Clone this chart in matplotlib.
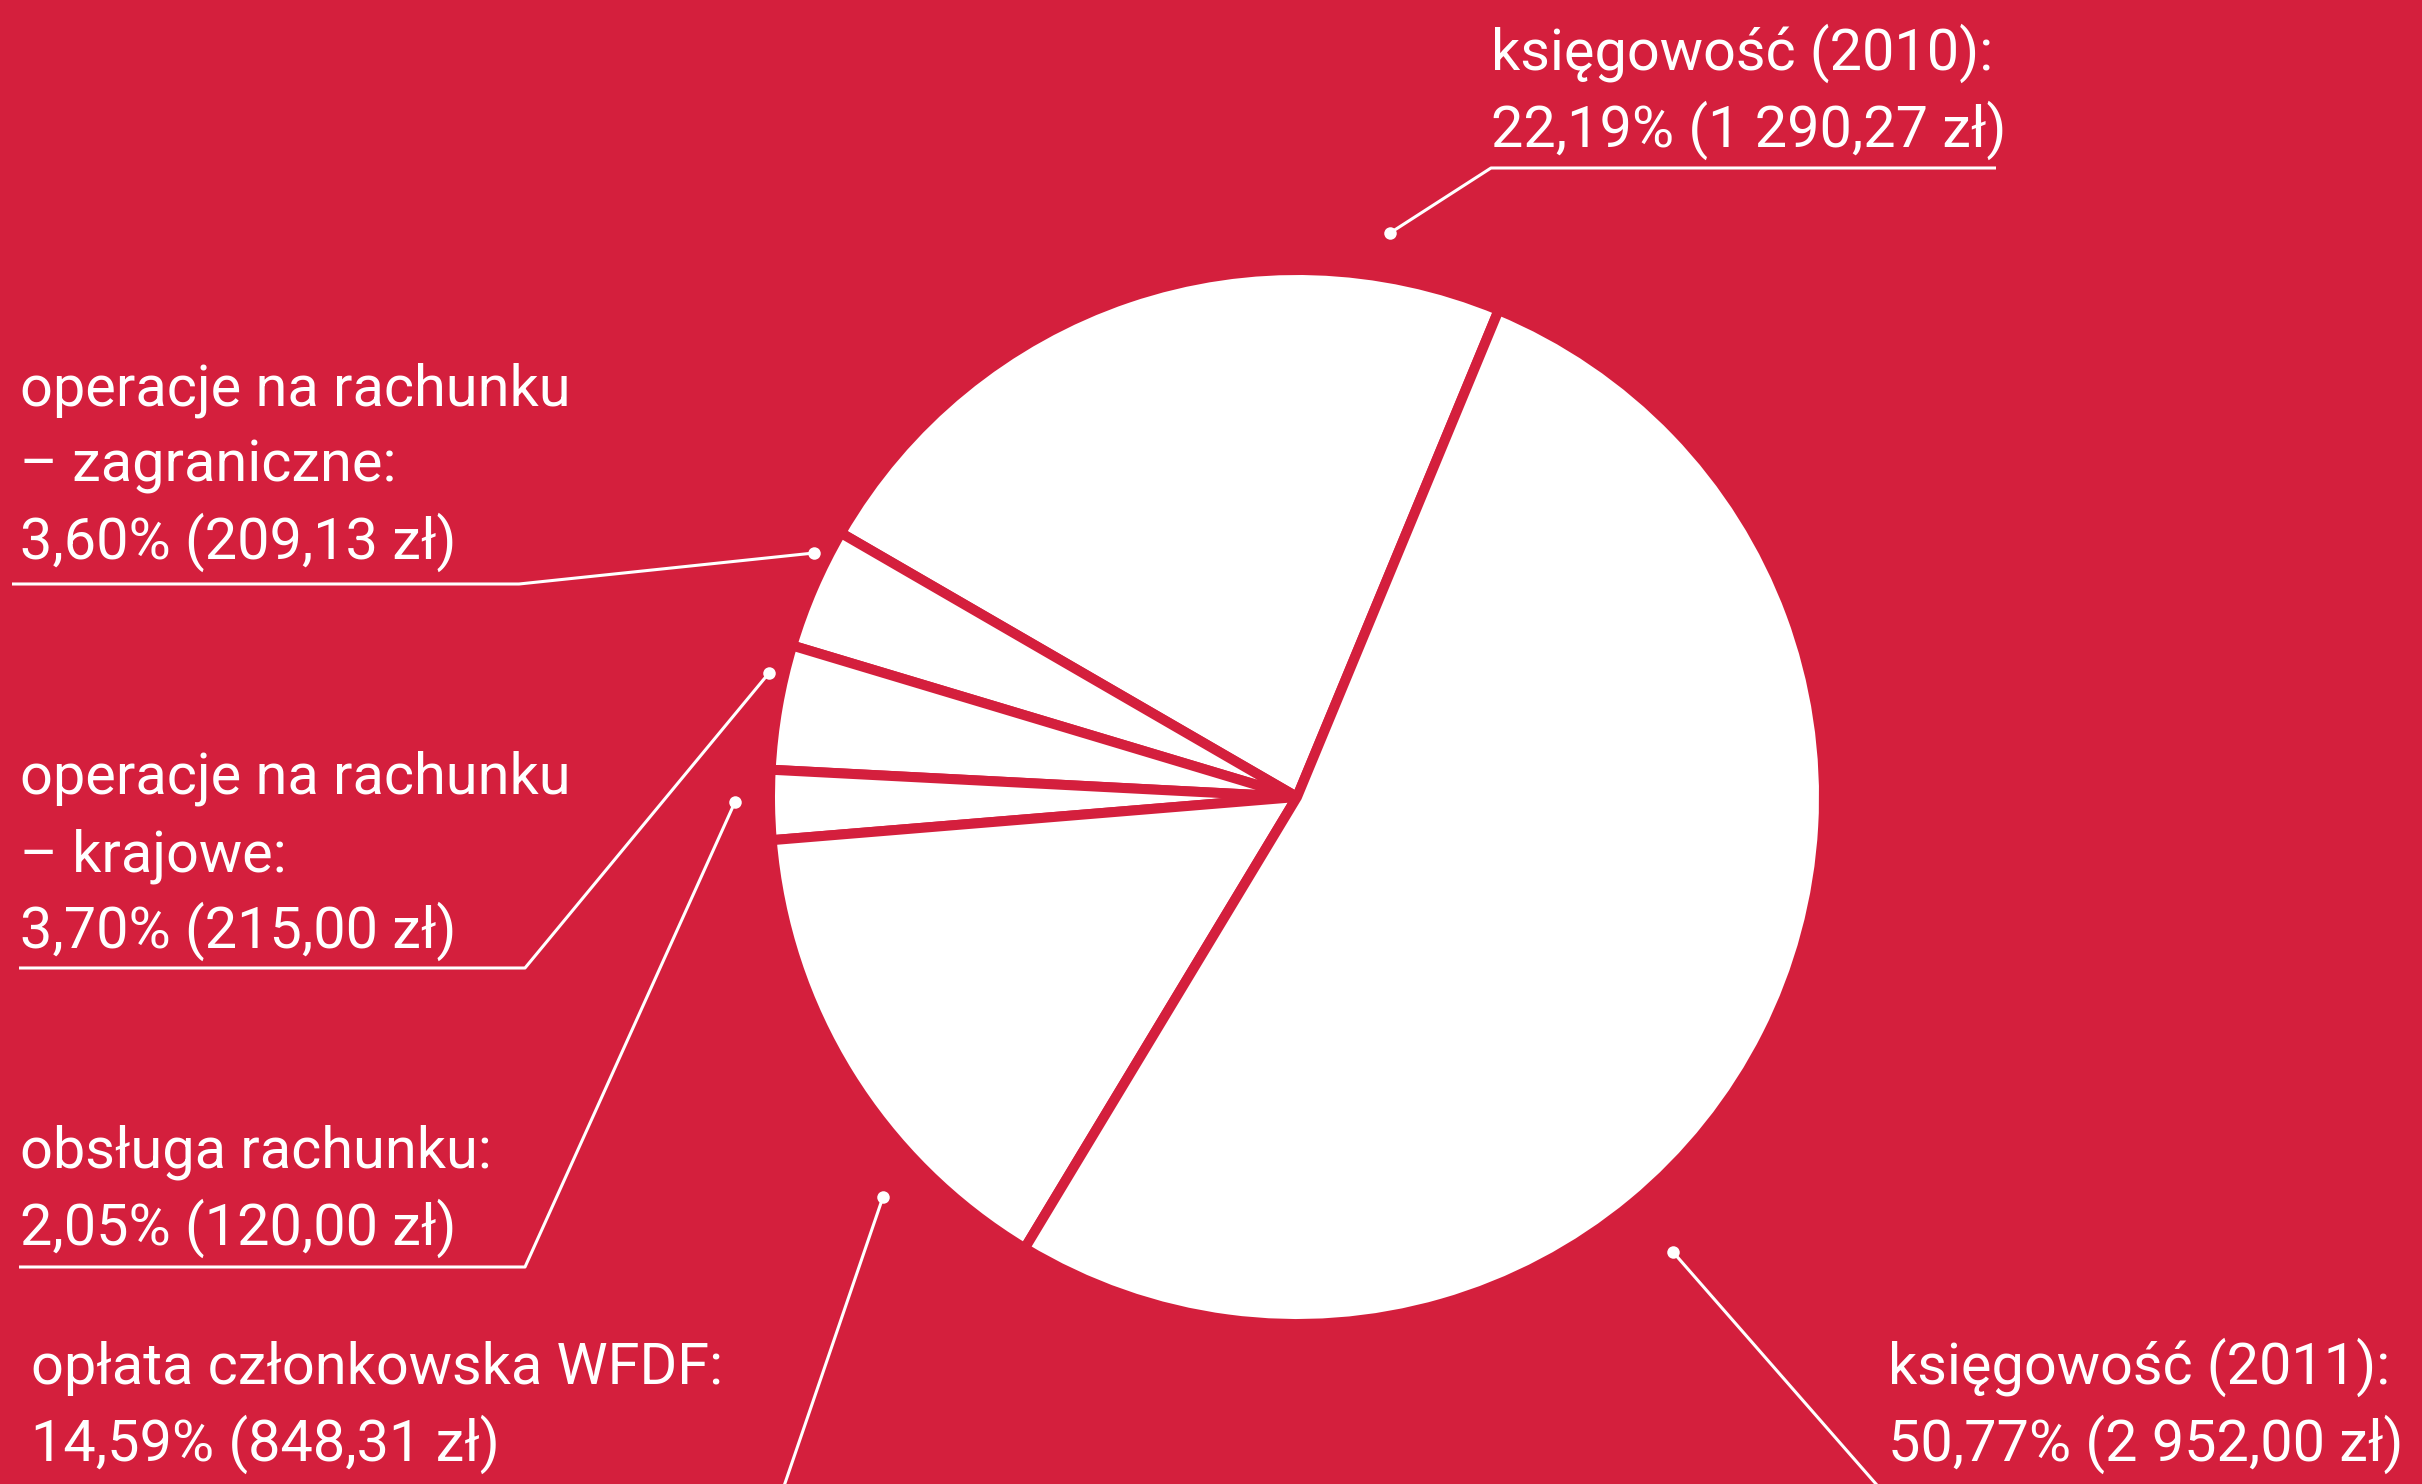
import matplotlib
matplotlib.use("Agg")
import matplotlib.pyplot as plt
from matplotlib import font_manager

# dane: koszty (zł) i opisy
names = [
    ["księgowość (2010):"],
    ["operacje na rachunku", "– zagraniczne:"],
    ["operacje na rachunku", "– krajowe:"],
    ["obsługa rachunku:"],
    ["opłata członkowska WFDF:"],
    ["księgowość (2011):"],
]
percents = ["22,19%", "3,60%", "3,70%", "2,05%", "14,59%", "50,77%"]
amount_text = ["1 290,27 zł", "209,13 zł", "215,00 zł", "120,00 zł", "848,31 zł", "2 952,00 zł"]
amounts = [1290.27, 209.13, 215.00, 120.00, 848.31, 2952.00]

RED = "#D41F3D"
WHITE = "white"

available = {f.name for f in font_manager.fontManager.ttflist}
family = "DejaVu Sans"
for cand in ["Roboto", "Open Sans"]:
    if cand in available:
        family = cand
        break
plt.rcParams["font.family"] = [family, "DejaVu Sans"]

W, H = 2422, 1484
fig = plt.figure(figsize=(W / 100, H / 100), dpi=100, facecolor=RED)
ax = fig.add_axes([0, 0, 1, 1])
ax.set_facecolor(RED)

# y is flipped, so clockwise in data = counterclockwise on screen
ax.pie(amounts, center=(1297, 797), radius=527, startangle=-67.5,
       counterclock=False, colors=[WHITE] * len(amounts),
       wedgeprops=dict(edgecolor=RED, linewidth=7.2), frame=True)
ax.set_xlim(0, W)
ax.set_ylim(H, 0)  # pixel coords, y down
ax.set_aspect("equal")
ax.axis("off")

# layout of labels: text x, first baseline, leader polyline (dot first)
layout = [
    dict(x=1491, y=70, line=[(1390, 233), (1491, 168), (1996, 168)]),
    dict(x=20, y=405, line=[(814, 553), (519, 584), (12, 584)]),
    dict(x=20, y=794, line=[(769, 673), (525, 968), (19, 968)]),
    dict(x=20, y=1168, line=[(735, 802), (525, 1267), (19, 1267)]),
    dict(x=31, y=1384, line=[(883, 1197), (745, 1600)]),
    dict(x=1888, y=1384, line=[(1673, 1252), (1995, 1620)]),
]
step = 77
fs = 41.5

for i, lay in enumerate(layout):
    lines = names[i] + [f"{percents[i]} ({amount_text[i]})"]
    for k, s in enumerate(lines):
        ax.text(lay["x"], lay["y"] + k * step, s, color=WHITE, fontsize=fs,
                ha="left", va="baseline")
    xs = [p[0] for p in lay["line"]]
    ys = [p[1] for p in lay["line"]]
    ax.plot(xs, ys, color=WHITE, lw=2.2, solid_capstyle="butt", clip_on=False)
    ax.plot(xs[0], ys[0], "o", color=WHITE, ms=9, mec="none")

fig.savefig("out.png", dpi=100, facecolor=RED)
